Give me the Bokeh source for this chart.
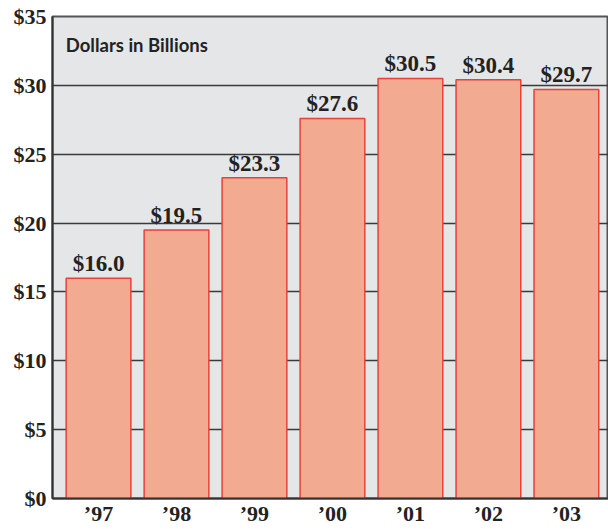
from bokeh.plotting import figure
from bokeh.models import ColumnDataSource, FixedTicker, Label
from bokeh.embed import file_html
from bokeh.resources import INLINE
from bokeh.core.properties import value

years = ["\u201997", "\u201998", "\u201999", "\u201900", "\u201901", "\u201902", "\u201903"]
values = [16.0, 19.5, 23.3, 27.6, 30.5, 30.4, 29.7]
y_ticks = [0, 5, 10, 15, 20, 25, 30, 35]
y_tick_labels = ["$0", "$5", "$10", "$15", "$20", "$25", "$30", "$35"]
title_text = "Dollars in Billions"

xs = list(range(len(years)))
src = ColumnDataSource(dict(x=xs, top=values, lab=["$%.1f" % v for v in values]))

p = figure(width=608, height=529, output_backend="svg", toolbar_location=None,
           x_range=(-0.59, 6.54), y_range=(0, 35),
           min_border_left=52, min_border_right=0, min_border_top=16, min_border_bottom=31)
p.background_fill_color = "#e5e6e8"
p.border_fill_color = "white"
p.outline_line_color = "#555555"
p.outline_line_width = 2

p.xgrid.grid_line_color = None
p.ygrid.ticker = FixedTicker(ticks=y_ticks)
p.ygrid.grid_line_color = "#3a3a3a"
p.ygrid.grid_line_width = 1.5
p.ygrid.grid_line_alpha = 1

p.vbar(x="x", top="top", width=0.83, bottom=0, source=src,
       fill_color="#f2aa90", line_color="#e8413a", line_width=1.5)

p.text(x="x", y="top", text="lab", source=src, y_offset=-2,
       text_align="center", text_baseline="bottom",
       text_font=value("Liberation Serif"), text_font_style="bold",
       text_font_size="23px", text_color="#222222")

p.yaxis.ticker = FixedTicker(ticks=y_ticks)
p.yaxis.major_label_overrides = {t: l for t, l in zip(y_ticks, y_tick_labels)}
p.yaxis.major_tick_line_color = None
p.yaxis.major_tick_out = 0
p.yaxis.major_tick_in = 0
p.yaxis.minor_tick_line_color = None
p.yaxis.minor_tick_out = 0
p.yaxis.axis_line_color = "#333333"
p.yaxis.axis_line_width = 2
p.yaxis.major_label_text_font = "Liberation Serif"
p.yaxis.major_label_text_font_style = "bold"
p.yaxis.major_label_text_font_size = "22px"
p.yaxis.major_label_text_color = "#222222"
p.yaxis.major_label_standoff = 6

p.xaxis.ticker = FixedTicker(ticks=xs)
p.xaxis.major_label_overrides = {i: y for i, y in zip(xs, years)}
p.xaxis.major_tick_line_color = None
p.xaxis.major_tick_out = 0
p.xaxis.major_tick_in = 0
p.xaxis.minor_tick_line_color = None
p.xaxis.minor_tick_out = 0
p.xaxis.axis_line_color = "#333333"
p.xaxis.axis_line_width = 2
p.xaxis.major_label_text_font = "Liberation Serif"
p.xaxis.major_label_text_font_style = "bold"
p.xaxis.major_label_text_font_size = "22px"
p.xaxis.major_label_text_color = "#222222"
p.xaxis.major_label_standoff = 2

p.add_layout(Label(x=-0.42, y=32.9, text=title_text, text_font="Lato",
                   text_font_style="bold", text_font_size="18.5px",
                   text_color="#222222", text_baseline="middle", text_align="left"))

open("out.html", "w").write(file_html(p, INLINE))
